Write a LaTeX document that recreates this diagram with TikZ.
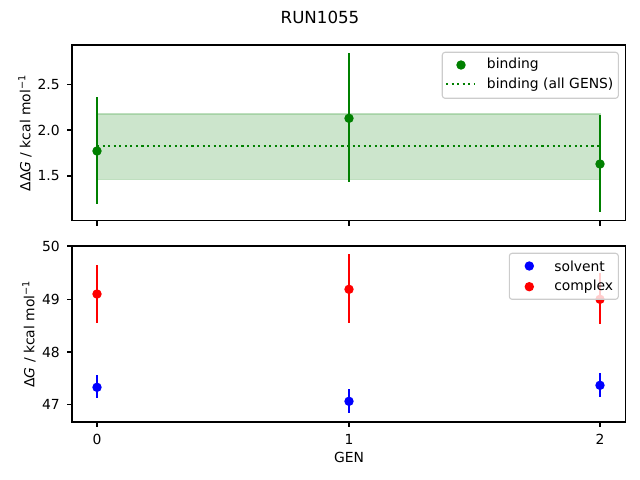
\documentclass[tikz,border=0pt]{standalone}
\usepackage{fontspec}
\setmainfont{DejaVu Sans}
\begin{document}
\begin{tikzpicture}[x=0.72pt,y=-0.72pt,font=\fontsize{10}{12}\selectfont,
    frame/.style={line width=0.8pt},
    tickmark/.style={line width=0.8pt},
    errbar/.style={line width=1.5pt},
    dot/.style={circle,inner sep=0pt,minimum size=6.8pt},
    legendbox/.style={draw=black!20,line width=0.8pt,rounded corners=2pt,fill=white,fill opacity=0.8,text opacity=1}]
    \useasboundingbox (0,0) rectangle (640,480);
    %% title
    \node[font=\fontsize{12}{14}\selectfont] (title) at (320,17) {RUN1055};
    %% top panel: band and mean
    \filldraw[fill=green!50!black!40,draw=green!50!black!50,fill opacity=0.5,draw opacity=0.5,line width=0.8pt] (97,114) rectangle (600,179.3);
    \draw[green!50!black,line width=1.5pt,dash pattern=on 1.5pt off 2.5pt] (97,146) -- (600,146);
    %% top panel: points
    \foreach \gx/\gy/\lo/\hi in {97/151/97.3/204.3, 349/118.3/53.3/182.3, 600/164/115/212.3}{
        \draw[errbar,green!50!black] (\gx,\lo) -- (\gx,\hi);
        \node[dot,fill=green!50!black] at (\gx,\gy) {};
    }
    \draw[frame] (72,45) rectangle (625.3,220.7);
    \foreach \ty/\tl in {84.3/2.5, 130/2.0, 176/1.5}{
        \draw[tickmark] (72,\ty) -- ++(-4.9,0) node[anchor=east,inner sep=0pt,xshift=-4.9pt] {\tl};
    }
    \foreach \tx in {97,349,600}{
        \draw[tickmark] (\tx,220.7) -- ++(0,4.9);
    }
    \node[rotate=90] (ylabtop) at (25,133) {ΔΔ\textit{G} / kcal mol\textsuperscript{−1}};
    %% top legend
    \draw[legendbox] (442.3,52.3) rectangle (618.3,98.3);
    \node[dot,fill=green!50!black] (lgbind) at (461,65) {};
    \draw[green!50!black,line width=1.5pt,dash pattern=on 1.5pt off 2.5pt] (446,84.3) -- (475,84.3);
    \node[anchor=west,inner sep=0pt] (lgbindtxt) at (486.7,65) {binding};
    \node[anchor=west,inner sep=0pt] (lgalltxt) at (486.7,84.3) {binding (all GENS)};
    %% bottom panel: points
    \foreach \gx/\gy/\lo/\hi in {97/294/265/322.7, 349/289.3/254.3/323.3, 600/299.3/273.3/324.3}{
        \draw[errbar,red] (\gx,\lo) -- (\gx,\hi);
        \node[dot,fill=red] at (\gx,\gy) {};
    }
    \foreach \gx/\gy/\lo/\hi in {97/387.3/375.3/398.3, 349/401.3/389.3/413.3, 600/385.3/373.3/396.7}{
        \draw[errbar,blue] (\gx,\lo) -- (\gx,\hi);
        \node[dot,fill=blue] at (\gx,\gy) {};
    }
    \draw[frame] (72,246) rectangle (625.3,422);
    \foreach \ty/\tl in {246/50, 299.3/49, 352/48, 404.3/47}{
        \draw[tickmark] (72,\ty) -- ++(-4.9,0) node[anchor=east,inner sep=0pt,xshift=-4.9pt] {\tl};
    }
    \foreach \tx/\tl in {97/0, 349/1, 600/2}{
        \draw[tickmark] (\tx,422) -- ++(0,4.9) node[anchor=north,inner sep=0pt,yshift=-4.9pt] {\tl};
    }
    \node[rotate=90] (ylabbot) at (29,334) {Δ\textit{G} / kcal mol\textsuperscript{−1}};
    \node (xlab) at (349,457.3) {GEN};
    %% bottom legend
    \draw[legendbox] (509.3,253.3) rectangle (618.3,299.3);
    \node[dot,fill=blue] (lgsolv) at (529.3,266) {};
    \node[dot,fill=red] (lgcplx) at (529.3,286.7) {};
    \node[anchor=west,inner sep=0pt] (lgsolvtxt) at (554,266) {solvent};
    \node[anchor=west,inner sep=0pt] (lgcplxtxt) at (554,286.7) {complex};
\end{tikzpicture}
\end{document}
